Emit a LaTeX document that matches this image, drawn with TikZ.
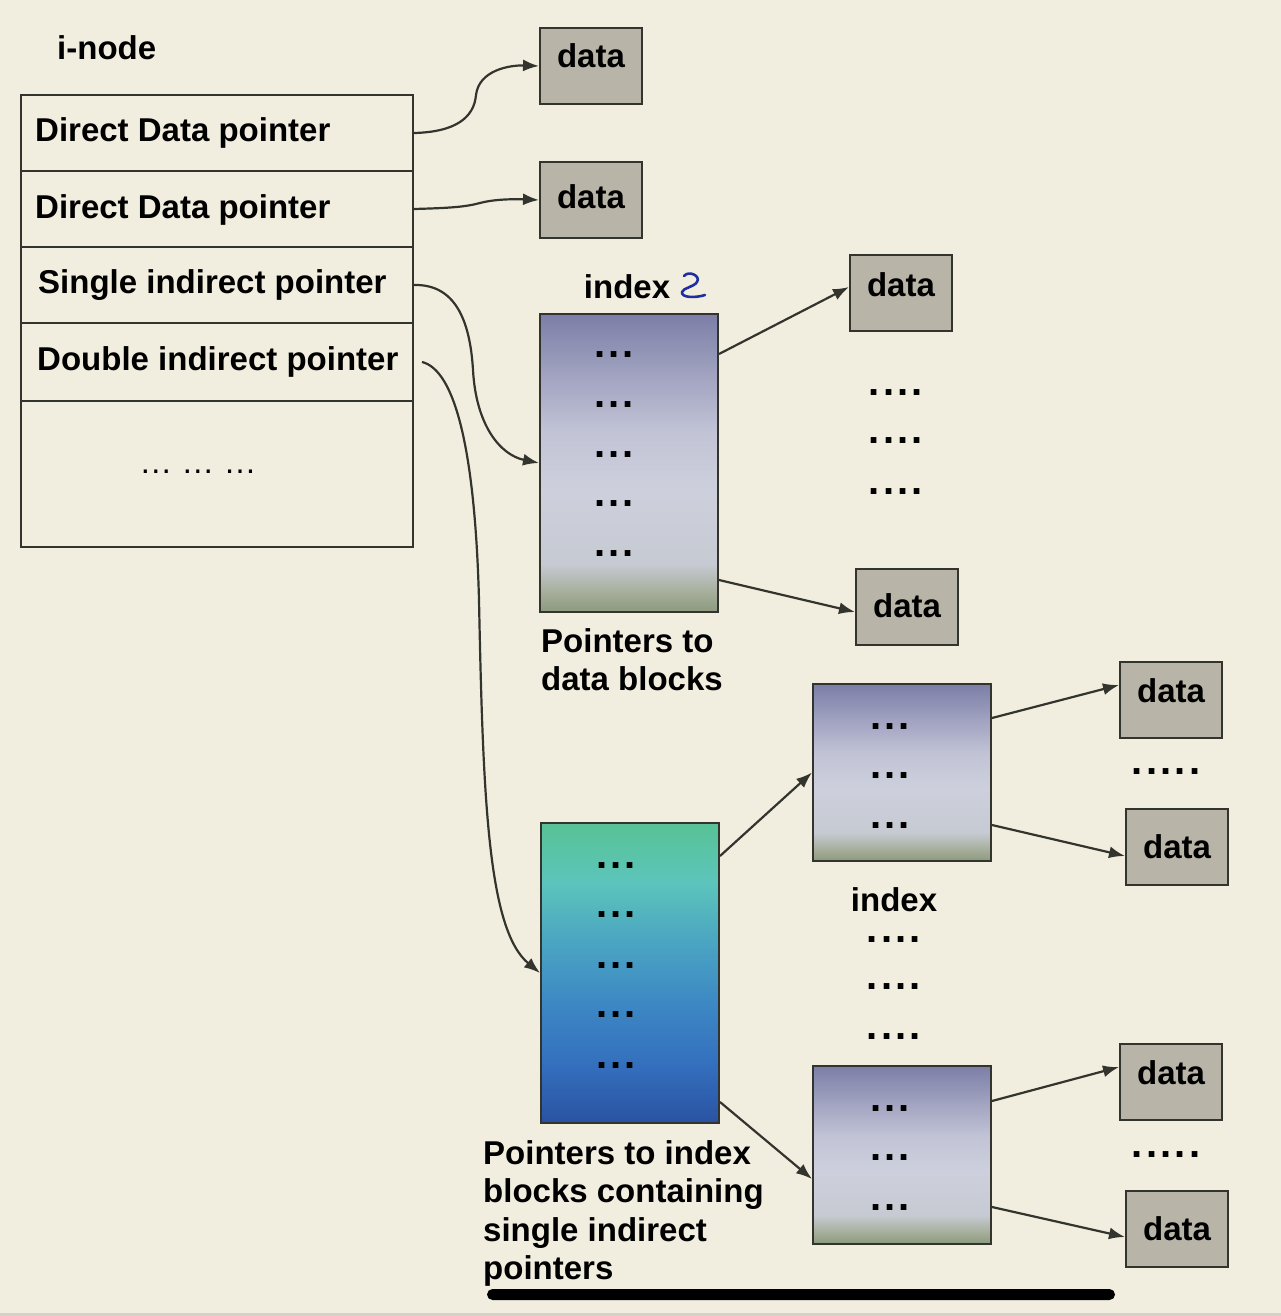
\documentclass[tikz,border=0pt]{standalone}
\usepackage{fontspec}
\setmainfont{Liberation Sans}
\usetikzlibrary{arrows.meta,calc}
\definecolor{bg}{HTML}{F2EEDF}
\definecolor{edge}{HTML}{34342F}
\definecolor{datafill}{HTML}{B8B5A8}
\definecolor{penblue}{HTML}{1F2FA0}
\definecolor{ia}{HTML}{8D9A7E}
\definecolor{ib}{HTML}{A3AC98}
\definecolor{ic}{HTML}{C6CAD2}
\definecolor{id}{HTML}{CDD0DC}
\definecolor{ie}{HTML}{C2C4D6}
\definecolor{if}{HTML}{A0A2C0}
\definecolor{ig}{HTML}{7C7EA7}
\definecolor{ta}{HTML}{2953A2}
\definecolor{tb}{HTML}{3470BE}
\definecolor{tc}{HTML}{3D88C4}
\definecolor{td}{HTML}{4AA4C2}
\definecolor{te}{HTML}{5CC4BC}
\definecolor{tf}{HTML}{5AC4A8}
\definecolor{tg}{HTML}{58C196}
\pgfdeclareverticalshading{idxshade}{100bp}{color(0bp)=(ia); color(25bp)=(ia); color(28bp)=(ib); color(33bp)=(ic); color(45bp)=(id); color(55bp)=(ie); color(65bp)=(if); color(75bp)=(ig); color(100bp)=(ig)}
\pgfdeclareverticalshading{tealshade}{100bp}{color(0bp)=(ta); color(25bp)=(ta); color(35bp)=(tb); color(45bp)=(tc); color(55bp)=(td); color(65bp)=(te); color(70bp)=(tf); color(75bp)=(tg); color(100bp)=(tg)}
\newcommand\tdots{.\kern3.2pt.\kern3.2pt.}
\newcommand\qdots{.\kern3.2pt.\kern3.2pt.\kern3.2pt.}
\newcommand\fdots{.\kern3.2pt.\kern3.2pt.\kern3.2pt.\kern3.2pt.}
\tikzset{
  lbl/.style={font=\bfseries\fontsize{33}{38.5}\selectfont, inner sep=0pt},
  databox/.style={draw=edge, fill=datafill, line width=2pt, minimum width=102pt,
    minimum height=76pt, inner sep=0pt, anchor=north west,
    font=\bfseries\fontsize{33}{38.5}\selectfont, text height=0pt, text depth=0pt},
  rowbox/.style={draw=edge, line width=2pt, minimum width=392pt, minimum height=76pt,
    inner sep=0pt, anchor=north west},
  idxbox/.style={draw=edge, line width=2pt, shade, shading=idxshade, inner sep=0pt,
    anchor=north west, minimum width=178pt},
  tealbox/.style={draw=edge, line width=2pt, shade, shading=tealshade, inner sep=0pt,
    anchor=north west, minimum width=178pt, minimum height=300pt},
  dotlbl/.style={font=\bfseries\fontsize{40}{40}\selectfont, inner sep=0pt},
  conn/.style={line width=2.2pt, draw=edge, -{Latex[length=16pt,width=12pt]}},
}
\begin{document}
\begin{tikzpicture}[x=1pt,y=-1pt]
\fill[bg] (0,0) rectangle (1281,1316);
\useasboundingbox (0,0) rectangle (1281,1316);
\fill[color=black!12!bg] (0,1313) rectangle (1281,1316);

% i-node
\node[lbl, anchor=base west] (inode) at (57,60) {i-node};
\node[rowbox] (r1) at (20,94) {};
\node[rowbox] (r2) at (20,170) {};
\node[rowbox] (r3) at (20,246) {};
\node[rowbox, minimum height=78pt] (r4) at (20,322) {};
\node[rowbox, minimum height=146pt] (r5) at (20,400) {};
\node[lbl, anchor=base west] (t1) at (35,142) {Direct Data pointer};
\node[lbl, anchor=base west] (t2) at (35,218) {Direct Data pointer};
\node[lbl, anchor=base west] (t3) at (38,293) {Single indirect pointer};
\node[lbl, anchor=base west] (t4) at (37,370) {Double indirect pointer};
\node[inner sep=0pt, font=\fontsize{33}{38}\selectfont, anchor=base] (t5) at (198,473) {… … …};

% direct data blocks
\node[databox] (d1) at (539,27) {\raisebox{-2pt}{data}};
\node[databox] (d2) at (539,161) {\raisebox{-9pt}{data}};

% single indirect index block
\node[lbl] (idxlbl) at (627,287) {index};
\draw[penblue, line width=2.6pt, line cap=round, line join=round]
  (684,276) .. controls (689,270) and (701,276) .. (697,282)
  .. controls (694,287) and (683,288) .. (682,292)
  .. controls (681,298) and (696,298) .. (705,295);
\node[idxbox, minimum height=298pt] (i1) at (539,313) {};
\foreach \yy/\nm in {355/a,405/b,455/c,504/d,554/e}
  \node[dotlbl] (i1\nm) at (614,\yy) {\tdots};
\node[databox] (d3) at (849,254) {\raisebox{-3pt}{data}};
\node[databox] (d4) at (855,568) {\raisebox{-10pt}{data}};
\foreach \yy/\nm in {393/a,441/b,492/c}
  \node[dotlbl] (s1\nm) at (896,\yy) {\qdots};
\node[lbl, anchor=north west, align=left] (plbl1) at (541,628) {Pointers to\\data blocks};

% double indirect
\node[tealbox] (tl) at (540,822) {};
\foreach \yy/\nm in {866/a,915/b,966/c,1015/d,1066/e}
  \node[dotlbl] (tl\nm) at (616,\yy) {\tdots};
\node[lbl, anchor=north west, align=left] (plbl2) at (483,1140)
  {Pointers to index\\blocks containing\\single indirect\\pointers};
\node[idxbox, minimum height=177pt] (i2) at (812,683) {};
\foreach \yy/\nm in {727/a,776/b,826/c}
  \node[dotlbl] (i2\nm) at (890,\yy) {\tdots};
\node[idxbox, minimum height=178pt] (i3) at (812,1065) {};
\foreach \yy/\nm in {1109/a,1158/b,1208/c}
  \node[dotlbl] (i3\nm) at (890,\yy) {\tdots};
\node[lbl] (idxlbl2) at (894,900) {index};
\foreach \yy/\nm in {940/a,987/b,1037/c}
  \node[dotlbl] (s2\nm) at (894,\yy) {\qdots};
\node[databox] (d5) at (1119,661) {\raisebox{-2pt}{data}};
\node[databox] (d6) at (1125,808) {\raisebox{-11pt}{data}};
\node[databox] (d7) at (1119,1043) {\raisebox{-2pt}{data}};
\node[databox] (d8) at (1125,1190) {\raisebox{-11pt}{data}};
\node[dotlbl] (s3) at (1166,772) {\fdots};
\node[dotlbl] (s4) at (1166,1155) {\fdots};

% connectors
\draw[conn] (r1.east) .. controls (455,132) and (474,118) .. (476,95)
  .. controls (479,70) and (510,65) .. (d1.west);
\draw[conn] (r2.east) .. controls (450,208) and (465,207) .. (480,203)
  .. controls (495,199) and (515,199) .. (d2.west);
\draw[conn] (r3.east) .. controls (455,284) and (470,320) .. (473,370)
  .. controls (476,425) and (500,455) .. (i1.west);
\draw[conn] ($(r4.east)+(8,0)$) .. controls (455,370) and (475,450) .. (479,600)
  .. controls (483,800) and (488,930) .. (tl.west);
\draw[conn] ($(i1.north east)+(0,41)$) -- ($(d3.north west)+(0,33)$);
\draw[conn] ($(i1.south east)+(0,-33)$) -- ($(d4.west)+(0,5)$);
\draw[conn] ($(tl.north east)+(0,34)$) -- (i2.west);
\draw[conn] ($(tl.south east)+(0,-22)$) -- ($(i3.west)+(0,24)$);
\draw[conn] ($(i2.north east)+(0,35)$) -- ($(d5.north west)+(0,24)$);
\draw[conn] ($(i2.south east)+(0,-37)$) -- ($(d6.west)+(0,9)$);
\draw[conn] ($(i3.north east)+(0,36)$) -- ($(d7.north west)+(0,24)$);
\draw[conn] ($(i3.south east)+(0,-38)$) -- ($(d8.west)+(0,8)$);

% bottom bar
\fill[black, rounded corners=5.5pt] (487,1289) rectangle (1115,1300);
\end{tikzpicture}
\end{document}
